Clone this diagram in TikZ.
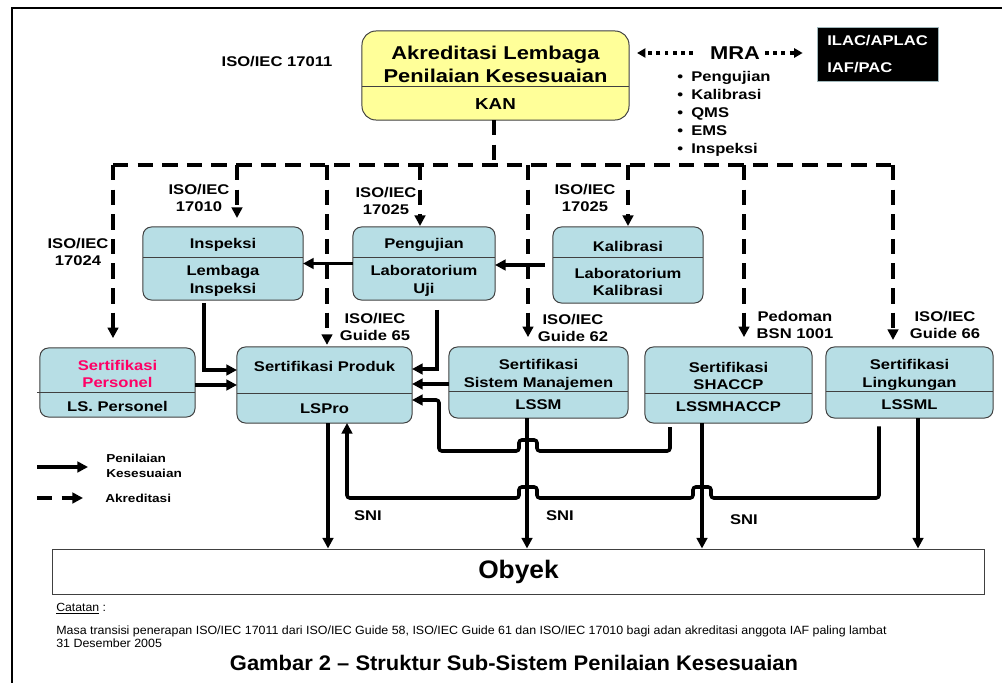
\documentclass[tikz,border=0pt]{standalone}
\usepackage{fontspec}
\setmainfont{Liberation Sans}[FakeStretch=1.18]
\newfontfamily\capfont{Liberation Sans}[FakeStretch=1.04]
\usetikzlibrary{arrows.meta,calc,positioning}

\definecolor{unitcyan}{RGB}{183,222,229}
\definecolor{kanyellow}{RGB}{255,255,153}
\definecolor{perspink}{RGB}{255,0,102}
\definecolor{boxline}{RGB}{64,64,64}

\tikzset{
  unit/.style={draw=boxline, line width=0.7pt, fill=unitcyan, rounded corners=6pt,
    inner sep=0pt, outer sep=0pt},
  txt/.style={font=\fontsize{10}{12.5}\selectfont\bfseries, align=center, inner sep=0pt},
  divider/.style={draw=boxline, line width=0.7pt},
  akr/.style={->, line width=2.7pt, dash pattern=on 11pt off 6.5pt},
  akrline/.style={line width=2.7pt, dash pattern=on 11pt off 6.5pt},
  pk/.style={->, line width=2.5pt},
  mradots/.style={line width=2.8pt, dash pattern=on 2.8pt off 3pt,
    >={Triangle[length=6pt,width=6.5pt]}},
}

\begin{document}
\begin{tikzpicture}[x=0.025cm, y=-0.025cm, >={Triangle[length=7.5pt,width=7.5pt]}]

    \useasboundingbox (0,0) rectangle (1002,683);
    \draw [line width=1.5pt] (12,720) -- (12,8) -- (1030,8);

    % KAN and MRA
    \node (kan) [unit, fill=kanyellow, rounded corners=10pt, minimum width=6.675cm, minimum height=2.225cm] at (495.5,75.5) {};
    \draw [divider] (kan.west |- 0,86) -- (kan.east |- 0,86);
    \node (kantitle) [txt, font=\fontsize{13.2}{16.3}\selectfont\bfseries] at (495.5,64) {Akreditasi Lembaga\\Penilaian Kesesuaian};
    \node (kanname)  [txt, font=\fontsize{11.3}{13}\selectfont\bfseries] at (495.5,104) {KAN};
    \node (iso17011) [txt] at (277,62) {ISO/IEC 17011};

    \node (ilac) [fill=black, draw=unitcyan!60!gray, txt, text=white, align=left, minimum width=3.025cm, minimum height=1.35cm] at (877.5,54) {ILAC/APLAC\\[7pt]IAF/PAC};

    \node (mra) [txt, font=\fontsize{13.2}{15}\selectfont\bfseries] at (735,53) {MRA};
    \draw [mradots, ->, shorten <=12pt, shorten >=5.7pt] (mra.west) -- (kan.east |- mra);
    \draw [mradots, ->, shorten <=3.5pt, shorten >=10pt] (mra.east) -- (ilac.west |- mra);

    \node (mralist) [txt, align=left, anchor=north west, font=\fontsize{10}{12.8}\selectfont\bfseries] at (677,71)
      {\makebox[10pt][l]{\textbullet}Pengujian\\\makebox[10pt][l]{\textbullet}Kalibrasi\\
       \makebox[10pt][l]{\textbullet}QMS\\\makebox[10pt][l]{\textbullet}EMS\\
       \makebox[10pt][l]{\textbullet}Inspeksi};

    % units
    \node (insp) [unit, minimum width=4cm, minimum height=1.825cm] at (223,263.5) {};
    \node (uji)  [unit, minimum width=3.55cm, minimum height=1.825cm] at (424,263.5) {};
    \node (kal)  [unit, minimum width=3.75cm, minimum height=1.9cm] at (628,265) {};
    \node (pers) [unit, minimum width=3.875cm, minimum height=1.725cm] at (117.5,382.5) {};
    \node (prod) [unit, minimum width=4.375cm, minimum height=1.9cm] at (324.5,385) {};
    \node (ssm)  [unit, minimum width=4.475cm, minimum height=1.775cm] at (538.5,382.5) {};
    \node (shaccp) [unit, minimum width=4.175cm, minimum height=1.9cm] at (728.5,385) {};
    \node (ling) [unit, minimum width=4.175cm, minimum height=1.775cm] at (909.5,382.5) {};

    \draw [divider] (insp.west |- 0,257) -- (insp.east |- 0,257);
    \draw [divider] (uji.west |- 0,257) -- (uji.east |- 0,257);
    \draw [divider] (kal.west |- 0,257) -- (kal.east |- 0,257);
    \draw [divider] (37,392) -- (pers.east |- 0,392);
    \draw [divider] (prod.west |- 0,393) -- (prod.east |- 0,393);
    \draw [divider] (ssm.west |- 0,391) -- (ssm.east |- 0,391);
    \draw [divider] (shaccp.west |- 0,393) -- (shaccp.east |- 0,393);
    \draw [divider] (ling.west |- 0,391) -- (ling.east |- 0,391);

    \node (insp-top) [txt] at (223,245) {Inspeksi};
    \node (insp-bot) [txt] at (223,281) {Lembaga\\Inspeksi};
    \node (uji-top)  [txt] at (424,245) {Pengujian};
    \node (uji-bot)  [txt] at (424,281) {Laboratorium\\Uji};
    \node (kal-top)  [txt] at (628,246) {Kalibrasi};
    \node (kal-bot)  [txt] at (628,282) {Laboratorium\\Kalibrasi};
    \node (pers-top) [txt, text=perspink] at (117.5,374) {Sertifikasi\\Personel};
    \node (pers-bot) [txt] at (117.5,406) {LS. Personel};
    \node (prod-top) [txt] at (324.5,366) {Sertifikasi Produk};
    \node (prod-bot) [txt] at (324.5,409) {LSPro};
    \node (ssm-top)  [txt] at (538.5,375) {Sertifikasi\\Sistem Manajemen};
    \node (ssm-bot)  [txt] at (538.5,405) {LSSM};
    \node (shaccp-top) [txt] at (728.5,376) {Sertifikasi\\SHACCP};
    \node (shaccp-bot) [txt] at (728.5,407) {LSSMHACCP};
    \node (ling-top) [txt] at (909.5,375) {Sertifikasi\\Lingkungan};
    \node (ling-bot) [txt] at (909.5,405) {LSSML};

    % accreditation lines
    \draw [akrline] (kan.south -| 494,0) -- (494,165);
    \draw [akrline] (113,165) -- (893,165);
    \foreach \x/\b/\g in {113/pers/7, 237/insp/6.4, 327/prod/1.5, 420/uji/0.7,
                          528/ssm/7, 628/kal/0.7, 744/shaccp/7, 893/ling/5}
      \draw [akr, shorten >=\g pt] (\x,165) -- (\b.north -| \x,0);

    \node (l17024) [txt] at (78,252) {ISO/IEC\\17024};
    \node (l17010) [txt] at (199,198) {ISO/IEC\\17010};
    \node (l17025a) [txt] at (386,201) {ISO/IEC\\17025};
    \node (l17025b) [txt] at (585,198) {ISO/IEC\\17025};
    \node (lg65) [txt] at (375,327) {ISO/IEC\\Guide 65};
    \node (lg62) [txt] at (573,328) {ISO/IEC\\Guide 62};
    \node (lbsn) [txt] at (795,325) {Pedoman\\BSN 1001};
    \node (lg66) [txt] at (945,325) {ISO/IEC\\Guide 66};

    % conformity assessment lines
    \draw [pk] (uji.west) -- (insp.east);
    \draw [pk, shorten <=5.7pt] (kal.west) -- (kal.west -| uji.east);
    \draw [pk, shorten <=2pt] (insp.south -| 204,0) |- (prod.west |- 0,370);
    \draw [pk, line width=3.3pt] (pers.east |- 0,385) -- (prod.west |- 0,385);
    \draw [pk, shorten <=7pt] (uji.south -| 437,0) |- (prod.east |- 0,369);
    \draw [pk] (ssm.west |- 0,384) -- (prod.east |- 0,384);
    \draw [pk, rounded corners=2pt, shorten <=3pt] (shaccp.south -| 670,0) -- (670,451) -- (537,451) -- (537,440)
      -- (519,440) -- (519,451) -- (439,451) -- (439,400) -- (prod.east |- 0,400);
    \draw [pk, rounded corners=2pt, shorten <=6pt] (ling.south -| 879,0) -- (879,498) -- (711,498) -- (711,487)
      -- (693,487) -- (693,498) -- (537,498) -- (537,487) -- (519,487) -- (519,498) -- (347,498) -- (prod.south -| 347,0);

    \node (obyek) [draw=boxline, line width=0.7pt, inner sep=0pt, minimum width=23.275cm, minimum height=1.125cm,
      font=\capfont\fontsize{18}{20}\selectfont\bfseries] at (518.5,571.5) {Obyek};
    \foreach \b/\x in {prod/328, ssm/527, shaccp/702, ling/918}
      \draw [pk] (\b.south -| \x,0) -- (obyek.north -| \x,0);

    \node (sni1) [txt] at (368,516) {SNI};
    \node (sni2) [txt] at (560,516) {SNI};
    \node (sni3) [txt] at (744,520) {SNI};

    % legend
    \coordinate (leg-pk) at (37,467);
    \coordinate (leg-akr) at (37,498);
    \draw [pk] (leg-pk) -- +(51,0);
    \draw [akr] (leg-akr) -- +(46,0);
    \node (leg-pk-txt) [txt, align=left, anchor=west, font=\fontsize{8.2}{11}\selectfont\bfseries] at (106,466) {Penilaian\\Kesesuaian};
    \node (leg-akr-txt) [txt, anchor=west, font=\fontsize{8.2}{11}\selectfont\bfseries] at (105,498) {Akreditasi};

    % note and caption
    \node (catatan) [anchor=west, inner sep=0pt, font=\capfont\fontsize{8.4}{9.5}\selectfont] at (56,609) {\underline{Catatan} :};
    \node (note) [anchor=north west, align=left, inner sep=0pt, font=\capfont\fontsize{8.5}{8.7}\selectfont] at (56,626)
      {Masa transisi penerapan ISO/IEC 17011 dari ISO/IEC Guide 58, ISO/IEC Guide 61 dan ISO/IEC 17010 bagi adan akreditasi anggota IAF paling lambat\\31 Desember 2005};
    \node (caption) [font=\capfont\fontsize{15}{18}\selectfont\bfseries] at (514,663) {Gambar 2 – Struktur Sub-Sistem Penilaian Kesesuaian};

\end{tikzpicture}
\end{document}
